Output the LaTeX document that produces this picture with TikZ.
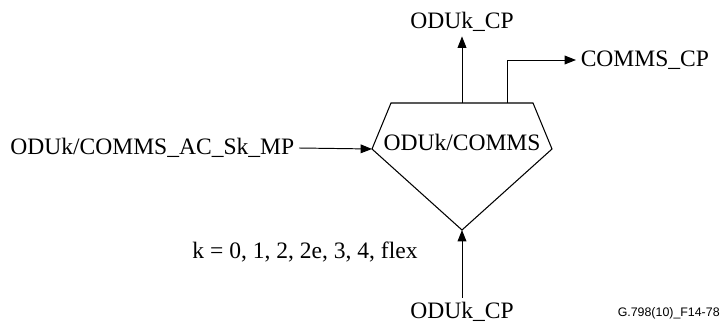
\documentclass[tikz,border=0pt]{standalone}
\usepackage{fontspec}
\setmainfont{Liberation Serif}
\newfontfamily\figfont{Liberation Sans}
\usetikzlibrary{arrows.meta,positioning,calc}

\begin{document}
\begin{tikzpicture}[
    x=0.02cm, y=-0.02cm,
    lbl/.style={font=\fontsize{13.4}{16}\selectfont, inner sep=2.5pt},
    arr/.style={-{Triangle[length=6.5pt,width=5pt]}, line width=0.55pt}
]
\useasboundingbox (0,0) rectangle (723,327);

% function block outline
\coordinate (tl) at (391,103);
\coordinate (tr) at (533,103);
\coordinate (rp) at (552,149);
\coordinate (bt) at (462,230);
\coordinate (lp) at (372,149);
\coordinate (c1) at (462,103);
\coordinate (c2) at (507,103);
\draw[line width=0.6pt] (tl) -- (tr) -- (rp) -- (bt) -- (lp) -- cycle;
\node[lbl] (fn) at (462,142) {ODUk/COMMS};

% access points
\node[lbl, anchor=east] (mp) at (299,148) {ODUk/COMMS\_AC\_Sk\_MP};
\node[lbl] (cpo) at (462,22) {ODUk\_CP};
\node[lbl, anchor=west] (comms) at (576,60) {COMMS\_CP};
\node[lbl] (cpi) at (462,312) {ODUk\_CP};
\node[lbl] (kval) at (305,252) {k = 0, 1, 2, 2e, 3, 4, flex};
\node[font=\figfont\fontsize{7.05}{8}\selectfont, anchor=east, inner sep=0pt] (fig) at (720,313) {G.798(10)\_F14-78};

\draw[arr] (mp.east) -- (lp);
\draw[arr] (c1) -- (cpo.south);
\draw[arr] (c2) |- (comms.west);
\draw[arr] (cpi.north) -- (bt);
\end{tikzpicture}
\end{document}
